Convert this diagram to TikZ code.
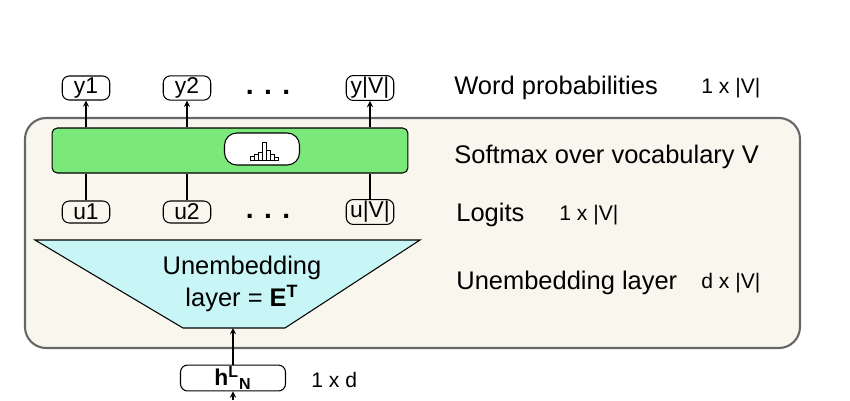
\documentclass[tikz,border=0pt]{standalone}
\usepackage{fontspec}
\setmainfont{Liberation Sans}
\usetikzlibrary{positioning}
\definecolor{panel}{RGB}{249,247,237}
\definecolor{softgreen}{RGB}{122,232,122}
\definecolor{unembcyan}{RGB}{200,245,245}
\begin{document}
\begin{tikzpicture}[x=0.02cm,y=-0.02cm,>=stealth,
  tok/.style={draw,rounded corners=4pt,minimum width=0.95cm,minimum height=0.44cm,inner sep=1pt,font=\fontsize{13}{15}\selectfont},
  lbl/.style={anchor=west,font=\fontsize{14.5}{17}\selectfont},
  dim/.style={anchor=west,font=\fontsize{12}{14}\selectfont},
  dots/.style={font=\bfseries\fontsize{16}{18}\selectfont}]
\useasboundingbox (0,0) rectangle (850,400);
\tikzstyle{every path}=[line width=0.6pt]
% panel and layers
\draw[gray!80!black,fill=panel,line width=1.2pt,rounded corners=12pt] (25,118) rectangle (800,348);
\node (soft) [draw,fill=softgreen,rounded corners=3pt,minimum width=7.12cm,minimum height=0.9cm] at (230,150.5) {};
\node (icon) [draw,fill=white,rounded corners=7pt,minimum width=1.5cm,minimum height=0.64cm] at (262,149) {};
\foreach \x/\h in {-12/4,-8/6,-4/8,0/18,4/10,8/6,12/3}
  \draw[line width=0.4pt] (262+\x,160) rectangle ++(4,-\h);
\draw[fill=unembcyan] (35,240) -- (420,240) -- (285,328) -- (183,328) -- cycle;
\node (unemb) [align=center,font=\fontsize{14.5}{17}\selectfont] at (242,284) {Unembedding\\[1pt]layer = \textbf{E}$^{\mathbf{T}}$};
\coordinate (ubot) at (233,328);
% tokens
\node (y1) [tok] at (86,88) {y1};
\node (y2) [tok] at (187,88) {y2};
\node (ydots) [dots] at (268,92) {. . .};
\node (yV) [tok] at (370,88) {y|V|};
\node (u1) [tok] at (86,212) {u1};
\node (u2) [tok] at (187,212) {u2};
\node (udots) [dots] at (268,216) {. . .};
\node (uV) [tok] at (370,212) {u|V|};
\node (h) [tok,minimum width=2.1cm] at (233,378) {\textbf{h}$^{\mathbf{L}}{}_{\mathbf{N}}$};
\coordinate (hin) at (233,400);
\foreach \n in {1,2,V} {
  \draw[->] (y\n|-soft.north) -- (y\n);
  \draw (u\n) -- (u\n|-soft.south);
}
\draw[->] (h) -- (ubot);
\draw[->] (hin) -- (h);
% right column
\node (wp) [lbl] at (448,88) {Word probabilities};
\node [dim] at (695,88) {1 x |V|};
\node (sm) [lbl] at (448,157) {Softmax over vocabulary V};
\node (lg) [lbl] at (450,215) {Logits};
\node [dim] at (553,215) {1 x |V|};
\node (ul) [lbl] at (450,283) {Unembedding layer};
\node [dim] at (695,283) {d x |V|};
\node [dim] at (305,380) {1 x d};
\end{tikzpicture}
\end{document}
